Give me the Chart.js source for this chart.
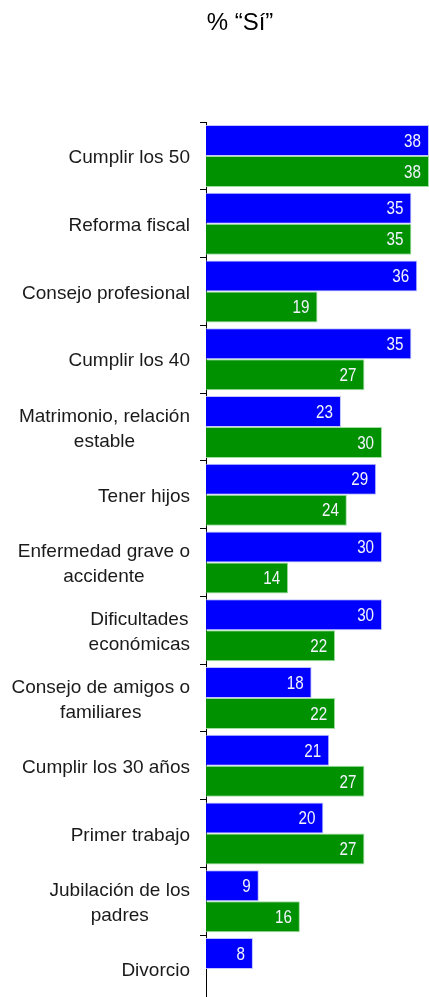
<!DOCTYPE html>
<html>
<head>
<meta charset="utf-8">
<script src="https://cdn.jsdelivr.net/npm/chart.js@4"></script>
<style>
  html, body { margin: 0; padding: 0; background: #ffffff; overflow: hidden; }
  #wrap { position: relative; width: 429px; height: 1003px; }
</style>
</head>
<body>
<div id="wrap"><canvas id="c"></canvas></div>
<script>
const titleText = '% \u201cS\u00ed\u201d';
const categories = [
  ['Cumplir los 50'],
  ['Reforma fiscal'],
  ['Consejo profesional'],
  ['Cumplir los 40'],
  ['Matrimonio, relación', 'estable'],
  ['Tener hijos'],
  ['Enfermedad grave o', 'accidente'],
  ['Dificultades', 'económicas'],
  ['Consejo de amigos o', 'familiares'],
  ['Cumplir los 30 años'],
  ['Primer trabajo'],
  ['Jubilación de los', 'padres'],
  ['Divorcio']
];
const seriesBlue  = [38, 35, 36, 35, 23, 29, 30, 30, 18, 21, 20, 9, 8];
const seriesGreen = [38, 35, 19, 27, 30, 24, 14, 22, 22, 27, 27, 16, null];
const xMin = 0;
const xMax = 38;

const labelFont = '19px "Liberation Sans", Arial, sans-serif';

const customText = {
  id: 'customText',
  afterDraw(chart) {
    const ctx = chart.ctx;
    // title
    ctx.save();
    ctx.fillStyle = '#000000';
    ctx.font = '24px "Liberation Sans", Arial, sans-serif';
    ctx.textAlign = 'center';
    ctx.textBaseline = 'middle';
    ctx.fillText(titleText, 240, 23);
    ctx.restore();

    // category labels
    const yScale = chart.scales.y;
    ctx.save();
    ctx.font = labelFont;
    ctx.fillStyle = '#1a1a1a';
    ctx.textAlign = 'center';
    ctx.textBaseline = 'middle';
    const lh = 25;
    const rightEdge = yScale.right - 16;
    categories.forEach((lines, i) => {
      const yc = yScale.getPixelForTick(i);
      let w = 0;
      lines.forEach(l => { w = Math.max(w, ctx.measureText(l).width); });
      const cx = rightEdge - w / 2;
      const y0 = yc - (lines.length - 1) * lh / 2 + 2;
      lines.forEach((l, k) => ctx.fillText(l, cx, y0 + k * lh));
    });
    ctx.restore();

    // value labels (slightly condensed digits)
    ctx.save();
    ctx.font = '19px "Liberation Sans", Arial, sans-serif';
    ctx.fillStyle = '#f4f4ff';
    ctx.textAlign = 'right';
    ctx.textBaseline = 'middle';
    const sx = 0.8;
    chart.data.datasets.forEach((ds, di) => {
      const meta = chart.getDatasetMeta(di);
      meta.data.forEach((bar, i) => {
        const v = ds.data[i];
        if (v === null || v === undefined) return;
        const xr = Math.min(bar.x, chart.chartArea.right) - 8;
        ctx.save();
        ctx.translate(xr, bar.y + 1);
        ctx.scale(sx, 1);
        ctx.fillText(String(v), 0, 0);
        ctx.restore();
      });
    });
    ctx.restore();
  }
};

new Chart(document.getElementById('c'), {
  type: 'bar',
  data: {
    labels: categories,
    datasets: [
      {
        label: 'Serie 1',
        data: seriesBlue,
        backgroundColor: '#0000ff',
        borderColor: 'rgba(190,190,255,0.9)',
        borderWidth: 1,
        borderSkipped: 'start'
      },
      {
        label: 'Serie 2',
        data: seriesGreen,
        backgroundColor: '#009100',
        borderColor: 'rgba(150,220,150,0.9)',
        borderWidth: 1,
        borderSkipped: 'start'
      }
    ]
  },
  options: {
    indexAxis: 'y',
    responsive: true,
    maintainAspectRatio: false,
    animation: false,
    layout: { padding: { top: 122, right: 0, bottom: 0, left: 0 } },
    datasets: { bar: { categoryPercentage: 0.915, barPercentage: 1.0 } },
    plugins: {
      legend: { display: false },
      title: { display: false },
      tooltip: { enabled: false }
    },
    scales: {
      x: {
        display: false,
        min: xMin,
        max: xMax
      },
      y: {
        afterFit(scale) { scale.width = 206; },
        border: { display: true, color: '#000000', width: 1 },
        grid: {
          display: true,
          offset: true,
          drawOnChartArea: false,
          drawTicks: true,
          tickLength: 6,
          color: '#000000'
        },
        ticks: { display: false }
      }
    }
  },
  plugins: [customText]
});
</script>
</body>
</html>
